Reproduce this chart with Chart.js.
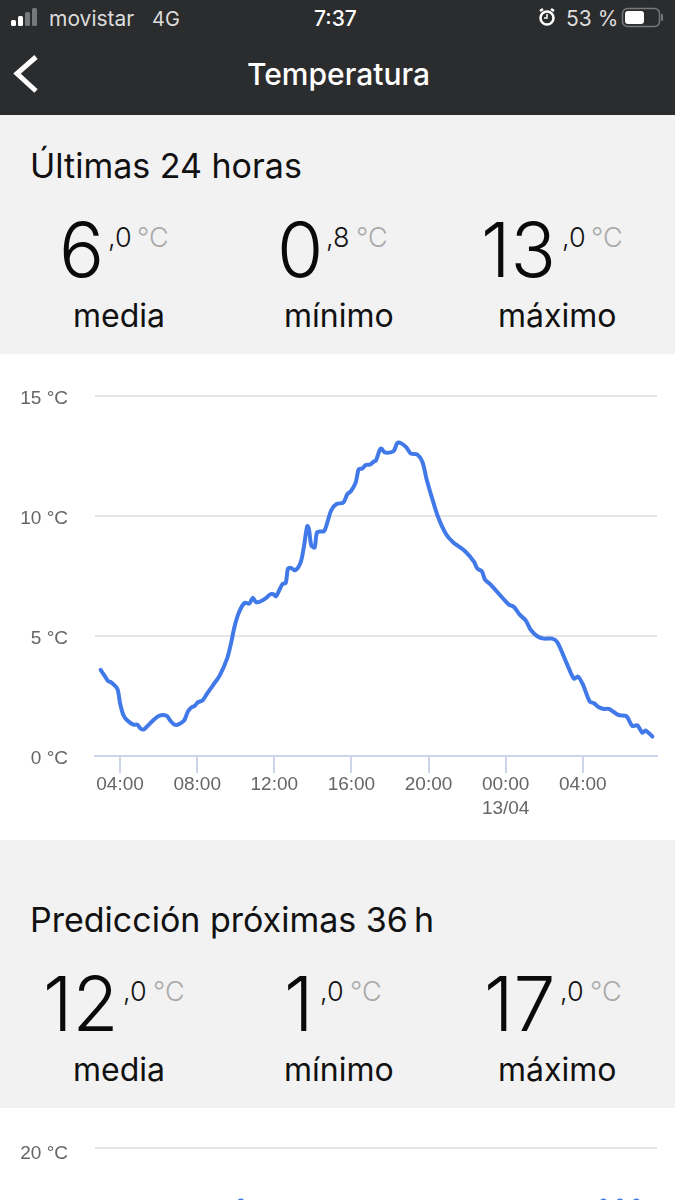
<!DOCTYPE html>
<html>
<head>
<meta charset="utf-8">
<title>Temperatura</title>
<script src="https://cdn.jsdelivr.net/npm/chart.js@4/dist/chart.umd.min.js"></script>
<style>
  html, body { margin: 0; padding: 0; }
  body { width: 675px; height: 1200px; position: relative; overflow: hidden; background: #f2f2f2; font-family: Inter, sans-serif; }
  .band { position: absolute; left: 0; width: 675px; }
  .t { position: absolute; white-space: nowrap; }
  canvas { display: block; }
</style>
</head>
<body>
<div class="band" style="top:0;height:115px;background:#2b2c2e"></div>
<div class="band" style="top:354px;height:486px;background:#fff"><canvas id="chart24"></canvas></div>
<div class="band" style="top:1108px;height:92px;background:#fff;overflow:hidden"><canvas id="chart36"></canvas></div>

<svg width="675" height="115" style="position:absolute;left:0;top:0">
  <rect x="11" y="20" width="5" height="6" rx="1.5" fill="#fff"/>
  <rect x="18" y="16" width="5" height="10" rx="1.5" fill="#fff"/>
  <rect x="25" y="12" width="5" height="14" rx="1.5" fill="#77787a"/>
  <rect x="32" y="8" width="5" height="18" rx="1.5" fill="#77787a"/>
  <circle cx="547" cy="18" r="6.5" fill="none" stroke="#fff" stroke-width="2.5"/>
  <path d="M547 14v4h-3" stroke="#fff" stroke-width="1.5" fill="none"/>
  <path d="M540 11l3-2M554 11l-3-2" stroke="#fff" stroke-width="2.5"/>
  <rect x="622.5" y="8.5" width="37" height="18" rx="5" fill="none" stroke="#77787a" stroke-width="1.5"/>
  <rect x="625" y="11" width="19" height="13" rx="3" fill="#fff"/>
  <rect x="661" y="14" width="2" height="7" rx="1" fill="#77787a"/>
  <polyline points="36,57 17,73.5 36,91" fill="none" stroke="#fff" stroke-width="5"/>
</svg>

<script>
// ultimas 24 horas (hour of the day, 24+ = next day)
const hours24 = [2.99,3.20,3.37,3.55,3.86,4.00,4.17,4.38,4.69,4.90,5.07,5.24,5.59,6.02,6.42,6.62,6.83,7.00,7.32,7.52,7.71,7.87,8.04,8.27,8.53,8.84,9.18,9.56,9.74,9.94,10.17,10.46,10.70,10.88,11.03,11.22,11.55,11.78,11.95,12.09,12.42,12.59,12.71,12.85,13.09,13.37,13.54,13.71,13.80,13.92,14.09,14.23,14.58,14.72,14.96,15.23,15.58,15.79,15.96,16.22,16.38,16.57,16.74,16.96,17.17,17.27,17.52,17.74,18.04,18.21,18.38,18.55,18.85,19.09,19.42,19.68,19.90,20.20,20.51,20.92,21.27,21.92,22.36,22.53,22.76,22.93,23.22,23.91,24.17,24.43,24.73,25.04,25.30,25.64,25.99,26.42,26.68,27.20,27.54,27.75,28.01,28.36,28.58,28.84,29.10,29.36,29.84,30.26,30.57,30.83,31.09,31.26,31.61];
const temps24 = [3.59,3.34,3.13,3.06,2.79,2.20,1.71,1.48,1.31,1.30,1.14,1.11,1.39,1.67,1.67,1.46,1.30,1.31,1.48,1.85,2.03,2.09,2.24,2.31,2.62,2.97,3.37,4.08,4.64,5.40,5.99,6.38,6.35,6.59,6.43,6.42,6.57,6.73,6.74,6.66,7.16,7.21,7.81,7.84,7.74,8.08,8.75,9.58,9.44,8.77,8.69,9.33,9.37,9.65,10.25,10.50,10.56,10.91,11.02,11.39,11.95,11.98,12.12,12.14,12.27,12.31,12.81,12.65,12.65,12.72,13.04,13.04,12.86,12.60,12.56,12.26,11.53,10.70,9.93,9.23,8.91,8.51,8.09,7.81,7.70,7.35,7.14,6.52,6.31,6.21,5.89,5.65,5.26,4.99,4.89,4.89,4.74,3.80,3.22,3.31,2.97,2.27,2.20,2.03,1.96,1.96,1.71,1.66,1.25,1.28,0.97,1.06,0.81];
const tickHours = [4, 8, 12, 16, 20, 24, 28];
const tickLabels = ["04:00", "08:00", "12:00", "16:00", "20:00", ["00:00", "13/04"], "04:00"];

// prediccion: only the tops are on screen, the rest is a rough guess
const hours36 = [0.85,1.85,2.85,3.85,4.85,5.85,6.85,7.85,8.85,9.85,10.85,11.85,12.85,13.85,14.85,15.85,16.85,17.85,18.85,19.85,20.85,21.85,22.85,23.85,24.85,25.85,26.85,27.85,28.85,29.85,30.85,31.85,32.85,33.85];
const temps36 = [3,6,8,10,12,13,14,15,17,15,15,14,12,11,9,8,7,5,4,3,2,1,2,5,8,10,12,13,15,16,17,17,17,16];

const BLUE = "#4279e8", GRID = "#e6e6e6", AXIS = "#ccd6eb", LABEL = "#666666";
const labelFont = { family: "'Liberation Sans', Arial, sans-serif", size: 19, lineHeight: 1.3 };

function put(x, base, txt, size, color, weight) {
  const el = document.createElement("div");
  el.className = "t";
  el.textContent = txt;
  el.style.cssText = `left:${x}px;top:${base - 0.864 * size}px;font-size:${size}px;line-height:${size}px;color:${color};font-weight:${weight || 400}`;
  document.body.appendChild(el);
}

// status bar and title
put(49, 26, "movistar", 21, "#dcdcdc");
put(152, 26, "4G", 20, "#dcdcdc");
put(314, 26, "7:37", 21, "#fff", 500);
put(566, 26, "53 %", 21, "#dcdcdc");
put(247, 85, "Temperatura", 30, "#fff", 500);

// section heads
put(30, 178, "Últimas 24 horas", 34, "#111");
put(30, 932, "Predicción próximas 36\u202fh", 34, "#111");

function stat(x, big, x2, dec, x3, base) {
  put(x, base, big, 75, "#0a0a0a", 300);
  put(x2, base - 30, dec, 27, "#111", 300);
  put(x3, base - 30, "°C", 27, "#aaaaaa", 300);
}
stat(59, "6", 108, ",0", 137, 277);
stat(277, "0", 326, ",8", 356, 277);
stat(481, "13", 562, ",0", 591, 277);
stat(43, "12", 123, ",0", 153, 1031);
stat(284, "1", 320, ",0", 350, 1031);
stat(484, "17", 560, ",0", 590, 1031);

[328, 1082].forEach(b => {
  put(73, b, "media", 32, "#111");
  put(284, b, "mínimo", 32, "#111");
  put(498, b, "máximo", 32, "#111");
});

function toPoints(xs, ys) {
  return xs.map((x, i) => ({ x: x, y: ys[i] }));
}

function yAxis(max, offset) {
  return {
    min: 0,
    max: max,
    afterFit: s => { s.width = 95; },
    ticks: {
      stepSize: 5,
      color: LABEL,
      font: labelFont,
      padding: 27,
      labelOffset: offset,
      callback: v => v + " °C"
    },
    border: { display: false },
    grid: {
      drawTicks: false,
      lineWidth: 2,
      color: c => (c.tick && c.tick.value === 0 ? "rgba(0,0,0,0)" : GRID)
    }
  };
}

const cv24 = document.getElementById("chart24");
cv24.width = 675; cv24.height = 486;
new Chart(cv24, {
  type: "line",
  data: {
    datasets: [{
      data: toPoints(hours24, temps24),
      borderColor: BLUE,
      borderWidth: 4,
      borderJoinStyle: "round",
      borderCapStyle: "round",
      tension: 0.3,
      pointRadius: 0
    }]
  },
  options: {
    responsive: false,
    animation: false,
    devicePixelRatio: 1,
    layout: { padding: { top: 42, right: 18, left: 0, bottom: 0 } },
    plugins: { legend: { display: false }, tooltip: { enabled: false } },
    scales: {
      x: {
        type: "linear",
        min: 2.7,
        max: 31.85,
        afterBuildTicks: s => { s.ticks = tickHours.map(v => ({ value: v })); },
        afterFit: s => { s.height = 84; },
        ticks: {
          color: LABEL,
          font: labelFont,
          padding: -1,
          autoSkip: false,
          maxRotation: 0,
          callback: v => tickLabels[tickHours.indexOf(v)]
        },
        border: { color: AXIS, width: 2 },
        grid: { drawOnChartArea: false, tickLength: 17, tickColor: AXIS, lineWidth: 2 }
      },
      y: yAxis(15, 3)
    }
  }
});

const cv36 = document.getElementById("chart36");
cv36.width = 675; cv36.height = 440;
new Chart(cv36, {
  type: "line",
  data: {
    datasets: [{
      data: toPoints(hours36, temps36),
      borderColor: BLUE,
      backgroundColor: BLUE,
      borderWidth: 4,
      borderJoinStyle: "round",
      pointRadius: 3.5,
      pointBorderWidth: 0
    }]
  },
  options: {
    responsive: false,
    animation: false,
    devicePixelRatio: 1,
    layout: { padding: { top: 40, right: 18, left: 0, bottom: 0 } },
    plugins: { legend: { display: false }, tooltip: { enabled: false } },
    scales: {
      x: {
        type: "linear",
        min: 0,
        max: 34.1,
        display: false
      },
      y: yAxis(20, 6)
    }
  }
});
</script>
</body>
</html>
